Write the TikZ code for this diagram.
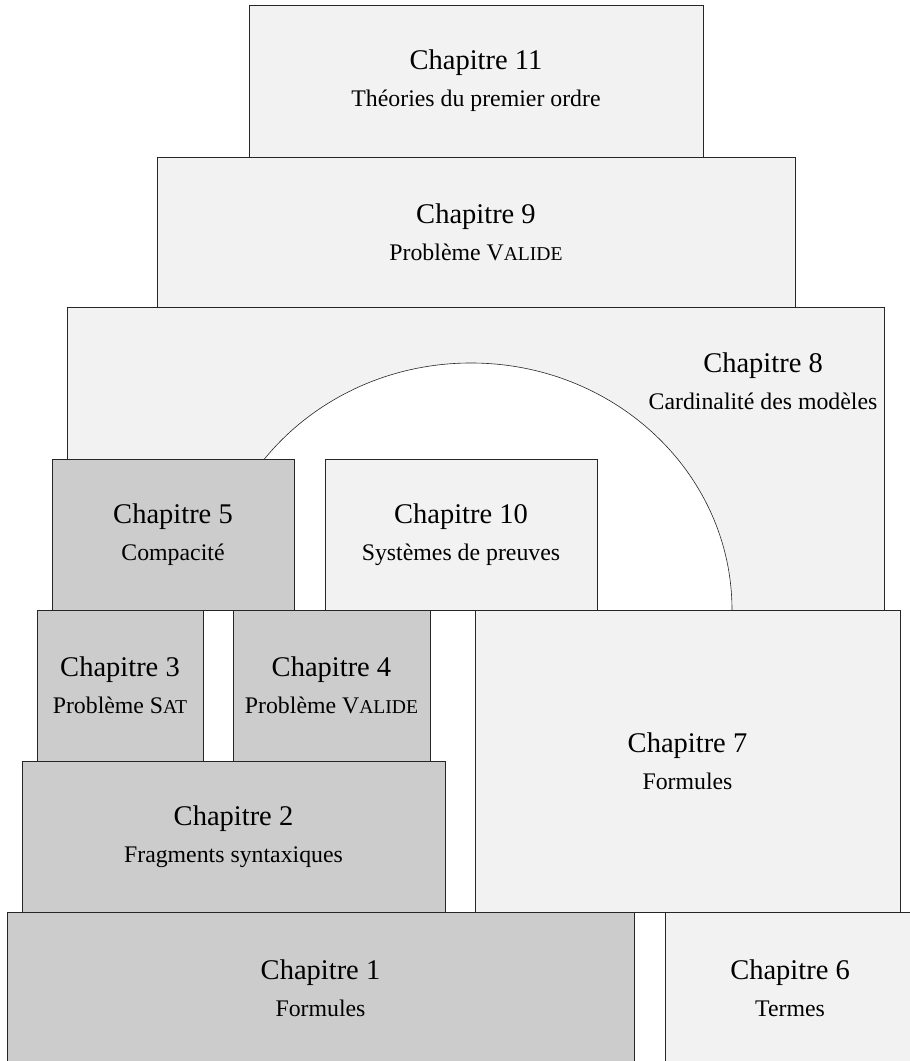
\documentclass[tikz,border=0pt]{standalone}
\usepackage{fontspec}
\setmainfont{Liberation Serif}
\usepackage{tikz}
\tikzset{
  boite/.style={draw=black!85, line width=0.8pt, inner sep=0pt, outer sep=0pt,
    align=center, font=\fontsize{23.8}{37}\selectfont},
  fonce/.style={boite, fill=black!20},
  clair/.style={boite, fill=black!5}
}
\newcommand{\titre}[1]{{\fontsize{28.5}{37}\selectfont #1}}
\newcommand{\petcap}[1]{{\fontsize{19.6}{37}\selectfont #1}}

\begin{document}
\begin{tikzpicture}[x=1pt,y=1pt]
                \useasboundingbox (0,0) rectangle (910,1061);
                \clip (0,0) rectangle (910,1061);

                % Upper floors
                \node[clair, minimum width=454, minimum height=152] (ch11) at (476,980) {\titre{Chapitre 11}\\Théories du premier ordre};
                \node[clair, minimum width=638, minimum height=150] (ch9) at (476,829) {\titre{Chapitre 9}\\Problème V\petcap{ALIDE}};

                % The wall with its arch
                \node[clair, minimum width=817, minimum height=303] (ch8) at (475.5,602.5) {};
                \fill[white] (732,451) arc[start angle=0, end angle=180, x radius=261, y radius=247] -- cycle;
                \draw[black!85, line width=0.6pt] (732,451) arc[start angle=0, end angle=180, x radius=261, y radius=247];
                \node[align=center, font=\fontsize{23.8}{37}\selectfont] (ch8txt) at (763,680) {\titre{Chapitre 8}\\Cardinalité des modèles};

                % Under the arch
                \node[fonce, minimum width=242, minimum height=151] (ch5) at (173,526.5) {\titre{Chapitre 5}\\Compacité};
                \node[clair, minimum width=272, minimum height=151] (ch10) at (461,526.5) {\titre{Chapitre 10}\\Systèmes de preuves};

                % Lower floors
                \node[fonce, minimum width=166, minimum height=151] (ch3) at (120,375.5) {\titre{Chapitre 3}\\Problème S\petcap{AT}};
                \node[fonce, minimum width=197, minimum height=151] (ch4) at (331.5,375.5) {\titre{Chapitre 4}\\Problème V\petcap{ALIDE}};
                \node[clair, minimum width=425, minimum height=302] (ch7) at (687.5,300) {\titre{Chapitre 7}\\Formules};
                \node[fonce, minimum width=423, minimum height=151] (ch2) at (233.5,224.5) {\titre{Chapitre 2}\\Fragments syntaxiques};

                % Foundations
                \node[fonce, minimum width=627, minimum height=152] (ch1) at (320.5,73) {\titre{Chapitre 1}\\Formules};
                \node[clair, minimum width=250, minimum height=152] (ch6) at (790,73) {\titre{Chapitre 6}\\Termes};
            \end{tikzpicture}
\end{document}
